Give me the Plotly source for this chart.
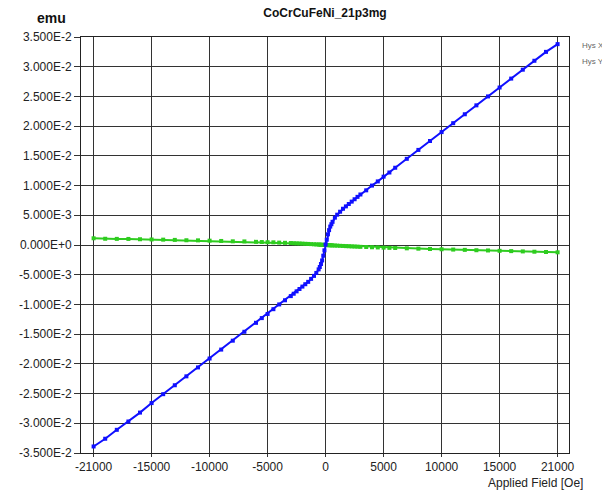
import plotly.graph_objects as go

# Applied field values (Oe)
field = [-20000, -19000, -18000, -17000, -16000, -15000, -14000, -13000, -12000, -11000,
         -10000, -9000, -8000, -7000, -6000, -5500, -5000, -4500, -4000, -3500, -3000,
         -2750, -2500, -2250, -2000, -1750, -1500, -1250, -1000, -800, -600, -500, -400,
         -300, -200, -100, 0, 100, 200, 300, 400, 500, 600, 800, 1000, 1250, 1500, 1750,
         2000, 2250, 2500, 2750, 3000, 3500, 4000, 4500, 5000, 5500, 6000, 7000, 8000,
         9000, 10000, 11000, 12000, 13000, 14000, 15000, 16000, 17000, 18000, 19000, 20000]

# Hys X moment (emu)
hys_x = [-0.0339, -0.0326, -0.0311, -0.0297, -0.0282, -0.0266, -0.0251, -0.0236, -0.0221, -0.0206,
         -0.0191, -0.0176, -0.0161, -0.0146, -0.0131, -0.0123, -0.0116, -0.0108, -0.0100, -0.0093, -0.0086,
         -0.0082, -0.0078, -0.0074, -0.0070, -0.0066, -0.0062, -0.0057, -0.0052, -0.0047, -0.0041, -0.0037, -0.0032,
         -0.0026, -0.0018, -0.0009, 0.0001, 0.0009, 0.0018, 0.0025, 0.0031, 0.0035, 0.0039, 0.0046, 0.0051, 0.0056, 0.0061, 0.0065,
         0.0069, 0.0073, 0.0077, 0.0081, 0.0085, 0.0092, 0.0100, 0.0107, 0.0115, 0.0122, 0.0130, 0.0145, 0.0160,
         0.0175, 0.0190, 0.0205, 0.0220, 0.0235, 0.0250, 0.0265, 0.0280, 0.0295, 0.0310, 0.0325, 0.0338]

# Hys Y moment (emu)
hys_y = [0.00113, 0.00105, 0.00103, 0.00102, 0.00097, 0.00093, 0.00090, 0.00086, 0.00080, 0.00078,
         0.00073, 0.00068, 0.00062, 0.00060, 0.00053, 0.00050, 0.00047, 0.00045, 0.00040, 0.00037, 0.00033,
         0.00030, 0.00028, 0.00026, 0.00023, 0.00020, 0.00018, 0.00015, 0.00012, 0.00010, 0.00008, 0.00006, 0.00004,
         0.00003, 0.00002, 0.00001, 0.00000, -0.00001, -0.00002, -0.00003, -0.00004, -0.00005, -0.00007, -0.00009, -0.00011, -0.00014, -0.00016, -0.00019,
         -0.00021, -0.00024, -0.00026, -0.00028, -0.00031, -0.00034, -0.00038, -0.00041, -0.00045, -0.00048, -0.00051, -0.00056, -0.00062,
         -0.00067, -0.00072, -0.00077, -0.00082, -0.00088, -0.00092, -0.00098, -0.00103, -0.00108, -0.00113, -0.00118, -0.00123]

x_tickvals = [-20000, -15000, -10000, -5000, 0, 5000, 10000, 15000, 20000]
x_ticktext = ["-21000", "-15000", "-10000", "-5000", "0", "5000", "10000", "15000", "21000"]

y_tickvals = [0.035, 0.030, 0.025, 0.020, 0.015, 0.010, 0.005, 0.0,
              -0.005, -0.010, -0.015, -0.020, -0.025, -0.030, -0.035]
y_ticktext = ["3.500E-2", "3.000E-2", "2.500E-2", "2.000E-2", "1.500E-2", "1.000E-2", "5.000E-3",
              "0.000E+0", "-5.000E-3", "-1.000E-2", "-1.500E-2", "-2.000E-2", "-2.500E-2",
              "-3.000E-2", "-3.500E-2"]

fig = go.Figure()
fig.add_trace(go.Scatter(
    x=field, y=hys_y, mode="lines+markers", name="Hys Y",
    line=dict(color="#2ecc1f", width=2),
    marker=dict(symbol="square", size=4, color="#2ecc1f"),
))
fig.add_trace(go.Scatter(
    x=field, y=hys_x, mode="lines+markers", name="Hys X",
    line=dict(color="#1010ff", width=2),
    marker=dict(symbol="square", size=4, color="#1010ff"),
))

font_family = "Liberation Sans, Arial, sans-serif"

fig.update_layout(
    width=602, height=492,
    margin=dict(l=81, r=33, t=37, b=39),
    paper_bgcolor="white", plot_bgcolor="white",
    showlegend=False,
    font=dict(family=font_family, size=12, color="#222"),
    title=dict(text="<b>CoCrCuFeNi_21p3mg</b>", x=325 / 602, xanchor="center",
               y=1 - 13 / 492, yanchor="middle",
               font=dict(family=font_family, size=12, color="#111")),
)

fig.update_xaxes(
    range=[-21086, 20983],
    tickmode="array", tickvals=x_tickvals, ticktext=x_ticktext,
    showgrid=True, gridcolor="#333", gridwidth=1,
    showline=True, linecolor="#222", linewidth=1, mirror=True,
    ticks="outside", ticklen=3, tickcolor="#333",
    zeroline=False,
    tickfont=dict(family=font_family, size=12, color="#222"),
)
fig.update_yaxes(
    range=[-0.035, 0.035],
    tickmode="array", tickvals=y_tickvals, ticktext=y_ticktext,
    showgrid=True, gridcolor="#333", gridwidth=1,
    showline=True, linecolor="#222", linewidth=1, mirror=True,
    ticks="outside", ticklen=6, tickcolor="#333",
    zeroline=False,
    tickfont=dict(family=font_family, size=12, color="#222"),
)

fig.add_annotation(text="<b>emu</b>", xref="paper", yref="paper",
                   x=-30 / 488, y=1 + 19 / 416, xanchor="center", yanchor="middle",
                   showarrow=False, font=dict(family=font_family, size=14, color="#111"))
fig.add_annotation(text="Applied Field [Oe]", xref="paper", yref="paper",
                   x=(585 - 81) / 488, y=-(483 - 453) / 416, xanchor="right", yanchor="middle",
                   showarrow=False, font=dict(family=font_family, size=12, color="#222"))
fig.add_annotation(text="Hys X", xref="paper", yref="paper",
                   x=(580 - 81) / 488, y=1 - (45 - 37) / 416, xanchor="left", yanchor="middle",
                   showarrow=False, font=dict(family=font_family, size=8, color="#666666"))
fig.add_annotation(text="Hys Y", xref="paper", yref="paper",
                   x=(580 - 81) / 488, y=1 - (61 - 37) / 416, xanchor="left", yanchor="middle",
                   showarrow=False, font=dict(family=font_family, size=8, color="#666666"))

fig.write_html("out.html", config={"displayModeBar": False})

# remove the browser's default body margin so the figure sits at the page origin
with open("out.html", "r", encoding="utf-8") as f:
    html = f.read()
html = html.replace("<head>", "<head><style>html,body{margin:0;padding:0;overflow:hidden;}</style>", 1)
with open("out.html", "w", encoding="utf-8") as f:
    f.write(html)
